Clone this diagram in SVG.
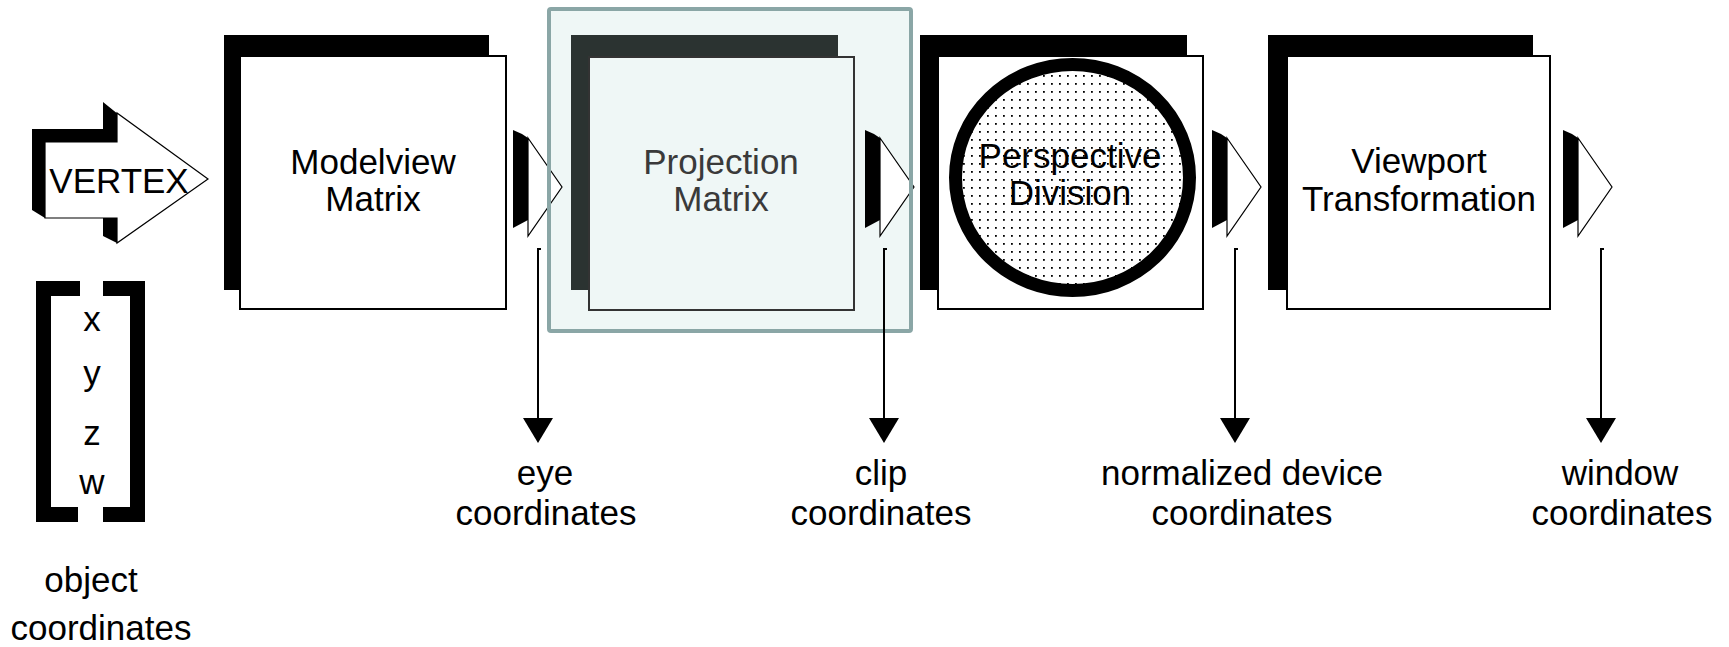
<svg xmlns="http://www.w3.org/2000/svg" width="1729" height="647" viewBox="0 0 1729 647">
<style>
  text { font-family: "Liberation Sans", Arial, sans-serif; font-size: 35px; fill: #000; text-anchor: middle; }
  .shadow { fill: #000; }
  .front { fill: #fff; stroke: #000; stroke-width: 2; }
  .pshadow { fill: #2b3331; }
  .pfront { fill: #eff7f6; stroke: #333; stroke-width: 2; }
  .ptext { fill: #3a3a3a; }
  .line { fill: none; stroke: #000; stroke-width: 2; }
  .head { fill: #000; }
  .tri { fill: #fff; stroke: #000; stroke-width: 1.2; }
</style>
<defs>
  <pattern id="dots" width="8" height="8" patternUnits="userSpaceOnUse">
    <rect width="8" height="8" fill="#fff"/>
    <rect x="3" y="3" width="1.8" height="1.8" fill="#000"/>
  </pattern>
  <g id="smallArrow">
    <polygon points="0,0 9,4 15,8 15,90 0,98" fill="#000"/>
    <polygon class="tri" points="15,8 49,57 15,106"/>
  </g>
</defs>
<rect width="1729" height="647" fill="#fff"/>

<!-- projection frame fill -->
<g id="frame-fill">
  <rect x="549" y="9" width="362" height="322" fill="#eff7f6"/>
</g>

<g id="vertex">
  <polygon class="shadow" points="32,129 103,129 103,102 150,140 150,217 117,243 103,236 103,218 45,218 32,210"/>
  <polygon fill="#fff" stroke="#000" stroke-width="1.2" points="45,142 117,142 117,113 208,179 117,243 117,218 45,218"/>
  <text x="119" y="193">VERTEX</text>
</g>

<g id="object-coords">
  <path class="shadow" d="M36,281 H80 V296 H51 V507 H78 V522 H36 Z"/>
  <path class="shadow" d="M145,281 H103 V296 H130 V507 H103 V522 H145 Z"/>
  <text x="92" y="331">x</text>
  <text x="92" y="385">y</text>
  <text x="92" y="445">z</text>
  <text x="92" y="494">w</text>
  <text x="91" y="592">object</text>
  <text x="101" y="640">coordinates</text>
</g>

<g id="modelview">
  <rect class="shadow" x="224" y="35" width="265" height="255"/>
  <rect class="front" x="240" y="56" width="266" height="253"/>
  <text x="373" y="174">Modelview</text>
  <text x="373" y="211">Matrix</text>
</g>

<g id="projection">
  <rect class="pshadow" x="571" y="35" width="267" height="255"/>
  <rect class="pfront" x="589" y="57" width="265" height="253"/>
  <text class="ptext" x="721" y="174">Projection</text>
  <text class="ptext" x="721" y="211">Matrix</text>
</g>

<g id="perspective">
  <rect class="shadow" x="920" y="35" width="267" height="255"/>
  <rect class="front" x="938" y="56" width="265" height="253"/>
  <ellipse cx="1072.5" cy="177.5" rx="117" ry="113" fill="url(#dots)" stroke="#000" stroke-width="13"/>
  <text x="1070" y="168">Perspective</text>
  <text x="1070" y="205">Division</text>
</g>

<g id="viewport">
  <rect class="shadow" x="1268" y="35" width="265" height="255"/>
  <rect class="front" x="1287" y="56" width="263" height="253"/>
  <text x="1419" y="173">Viewport</text>
  <text x="1419" y="211">Transformation</text>
</g>

<g id="connectors">
  <use href="#smallArrow" x="513" y="130"/>
  <use href="#smallArrow" x="865" y="130"/>
  <use href="#smallArrow" x="1212" y="130"/>
  <use href="#smallArrow" x="1563" y="130"/>
</g>

<g id="frame-outline">
  <rect x="549" y="9" width="362" height="322" rx="2" fill="none" stroke="#8aa6a6" stroke-width="4"/>
</g>

<g id="down-connectors">
  <path class="line" d="M541,249 H538 V420"/>
  <polygon class="head" points="523,418 553,418 538,443"/>
  <path class="line" d="M887,249 H884 V420"/>
  <polygon class="head" points="869,418 899,418 884,443"/>
  <path class="line" d="M1238,249 H1235 V420"/>
  <polygon class="head" points="1220,418 1250,418 1235,443"/>
  <path class="line" d="M1604,249 H1601 V420"/>
  <polygon class="head" points="1586,418 1616,418 1601,443"/>
</g>

<g id="labels">
  <text x="545" y="485">eye</text>
  <text x="546" y="525">coordinates</text>
  <text x="881" y="485">clip</text>
  <text x="881" y="525">coordinates</text>
  <text x="1242" y="485">normalized device</text>
  <text x="1242" y="525">coordinates</text>
  <text x="1620" y="485">window</text>
  <text x="1622" y="525">coordinates</text>
</g>
</svg>
